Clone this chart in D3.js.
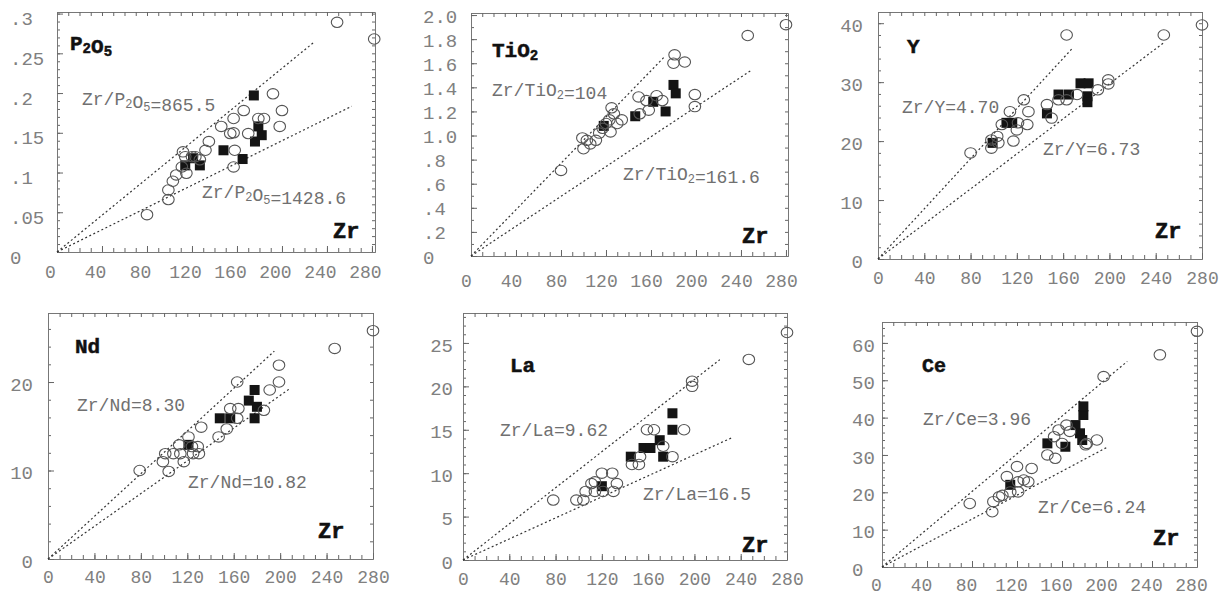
<!DOCTYPE html>
<html>
<head>
<meta charset="utf-8">
<script src="https://cdn.jsdelivr.net/npm/d3@7"></script>
<style>
  body { margin: 0; background: #fff; }
  svg { display: block; }
  text { font-family: "Liberation Mono", "DejaVu Sans Mono", monospace; }
</style>
</head>
<body>
<svg id="chart" width="1225" height="599"></svg>
<script>
// x axis is Zr (ppm) in every panel
var zrTicks = [0, 40, 80, 120, 160, 200, 240, 280];

// P2O5
var p2o5Open = [[80,0.047],[99,0.066],[99,0.078],[103,0.089],[106,0.097],[111,0.107],[112,0.126],[114,0.120],[115,0.099],[120,0.120],[123,0.120],[127,0.116],[132,0.128],[135,0.139],[146,0.158],[154,0.149],[157,0.150],[157,0.168],[158,0.128],[157,0.107],[166,0.178],[170,0.149],[179,0.168],[184,0.168],[192,0.199],[198,0.158],[200,0.178],[249,0.289],[282,0.268]];
var p2o5Filled = [[114,0.109],[121,0.118],[127,0.109],[148,0.128],[165,0.117],[175,0.197],[176,0.139],[179,0.158],[182,0.147]];
var p2o5Ratios = [865.5, 1428.6];
var p2o5Ticks = [0, 0.05, 0.1, 0.15, 0.2, 0.25, 0.3];
var p2o5TickLabels = ['0', '.05', '.1', '.15', '.2', '.25', '.3'];

// TiO2
var tio2Open = [[80,0.71],[99,0.98],[100,0.89],[103,0.96],[106,0.93],[111,0.96],[114,1.02],[117,1.06],[120,1.10],[123,1.13],[124,1.03],[125,1.23],[127,1.18],[130,1.10],[134,1.13],[149,1.32],[150,1.18],[156,1.29],[158,1.21],[165,1.33],[170,1.29],[180,1.60],[181,1.67],[190,1.61],[199,1.34],[199,1.24],[246,1.83],[280,1.92]];
var tio2Filled = [[118,1.08],[146,1.16],[162,1.28],[173,1.20],[180,1.42],[182,1.35]];
var tio2Ratios = [104, 161.6];
var tio2Ticks = [0, 0.2, 0.4, 0.6, 0.8, 1.0, 1.2, 1.4, 1.6, 1.8, 2.0];
var tio2TickLabels = ['0', '.2', '.4', '.6', '.8', '1.0', '1.2', '1.4', '1.6', '1.8', '2.0'];

// Y
var yOpen = [[80,18.0],[98,18.8],[98,20.2],[103,20.8],[104,19.7],[107,22.8],[114,25.0],[117,20.0],[120,21.9],[121,23.1],[126,27.0],[130,25.0],[129,22.8],[146,26.2],[150,23.9],[156,27.0],[163,27.0],[172,27.9],[163,38.0],[190,28.7],[199,30.4],[199,29.7],[247,38.0],[280,39.7]];
var yFilled = [[99,19.7],[111,23.1],[116,23.1],[146,24.7],[156,27.9],[165,27.9],[175,29.8],[182,29.8],[181,27.6],[181,26.6]];
var yRatios = [4.70, 6.73];
var yTicks = [0, 10, 20, 30, 40];
var yTickLabels = ['0', '10', '20', '30', '40'];

// Nd
var ndOpen = [[79,10.0],[99,11.0],[104,9.9],[101,11.9],[108,11.9],[113,12.9],[114,11.9],[117,11.0],[121,13.8],[124,12.7],[125,11.9],[129,12.7],[130,11.9],[132,14.9],[147,13.8],[154,14.7],[157,17.0],[163,15.9],[164,17.0],[163,20.0],[186,16.8],[191,19.1],[199,20.0],[199,21.9],[247,23.8],[280,25.8]];
var ndFilled = [[121,12.9],[148,15.9],[157,15.9],[178,15.9],[173,17.9],[178,19.1],[180,17.2]];
var ndRatios = [8.30, 10.82];
var ndTicks = [0, 10, 20];
var ndTickLabels = ['0', '10', '20'];

// La
var laOpen = [[78,6.9],[98,6.9],[104,6.9],[106,7.9],[111,8.8],[114,7.9],[114,9.0],[120,10.0],[121,7.9],[129,10.0],[130,7.9],[133,8.8],[146,11.0],[152,11.0],[153,11.9],[159,15.0],[165,15.0],[173,13.1],[181,11.9],[191,15.0],[198,20.6],[198,20.0],[247,23.1],[280,26.2]];
var laFilled = [[120,8.5],[145,11.9],[156,12.9],[162,12.9],[170,13.8],[173,11.9],[181,15.0],[181,16.9]];
var laRatios = [9.62, 16.5];
var laTicks = [0, 5, 10, 15, 20, 25];
var laTickLabels = ['0', '5', '10', '15', '20', '25'];

// Ce
var ceOpen = [[78,17.0],[98,14.8],[99,17.5],[104,18.8],[107,19.2],[111,24.2],[114,20.1],[120,26.9],[121,20.1],[121,22.8],[126,23.3],[130,22.8],[133,26.4],[147,30.0],[153,34.9],[154,29.1],[157,36.7],[160,33.1],[164,38.0],[167,36.3],[181,32.7],[182,33.1],[191,34.0],[197,51.0],[247,56.8],[280,63.1]];
var ceFilled = [[114,22.0],[147,33.1],[163,32.2],[172,38.0],[176,35.8],[178,34.0],[179,40.7],[179,43.0]];
var ceRatios = [3.96, 6.24];
var ceTicks = [0, 10, 20, 30, 40, 50, 60];
var ceTickLabels = ['0', '10', '20', '30', '40', '50', '60'];

var svg = d3.select('#chart');

// layout of each panel (pixels), separate from the data
var panels = [
  { name: ['P', '2', 'O', '5'], el: 'P2O5', open: p2o5Open, filled: p2o5Filled, ratios: p2o5Ratios,
    yTicks: p2o5Ticks, yLabels: p2o5TickLabels, yMax: 0.302, xMax: 282.7, yMinor: 0.01,
    left: 57, right: 375, top: 12, bottom: 252, xShift: -7, xLabelDy: 20,
    yLabelX: 10, yAnchor: 'start', yLabelDy: 5, lineEnds: [228, 262],
    title: [70, 50], zr: [333, 238], ratioPos: [[82, 105], [202, 198]] },
  { name: ['TiO', '2'], el: 'TiO2', open: tio2Open, filled: tio2Filled, ratios: tio2Ratios,
    yTicks: tio2Ticks, yLabels: tio2TickLabels, yMax: 2.017, xMax: 281.8, yMinor: 0.1,
    left: 471, right: 788, top: 13, bottom: 256, xShift: -5, xLabelDy: 25,
    yLabelX: 423, yAnchor: 'start', yLabelDy: 1, lineEnds: [172, 249],
    title: [492, 57], zr: [742, 243], ratioPos: [[492, 96], [623, 180]] },
  { name: ['Y'], el: 'Y', open: yOpen, filled: yFilled, ratios: yRatios,
    yTicks: yTicks, yLabels: yTickLabels, yMax: 41.9, xMax: 280, yMinor: 2,
    left: 878, right: 1202, top: 12, bottom: 259, xShift: 0, xLabelDy: 19,
    yLabelX: 863, yAnchor: 'end', yLabelDy: 2, lineEnds: [168, 247],
    title: [907, 53], zr: [1155, 238], ratioPos: [[902, 113], [1043, 155]] },
  { name: ['Nd'], el: 'Nd', open: ndOpen, filled: ndFilled, ratios: ndRatios,
    yTicks: ndTicks, yLabels: ndTickLabels, yMax: 27.8, xMax: 280, yMinor: 2,
    left: 48, right: 373, top: 313, bottom: 559, xShift: 0, xLabelDy: 18,
    yLabelX: 33, yAnchor: 'end', yLabelDy: 2, lineEnds: [195, 208],
    title: [75, 353], zr: [318, 538], ratioPos: [[77, 411], [188, 488]] },
  { name: ['La'], el: 'La', open: laOpen, filled: laFilled, ratios: laRatios,
    yTicks: laTicks, yLabels: laTickLabels, yMax: 28.45, xMax: 280, yMinor: 1,
    left: 463, right: 787, top: 313, bottom: 560, xShift: 0, xLabelDy: 19,
    yLabelX: 453, yAnchor: 'end', yLabelDy: 2, lineEnds: [222, 232],
    title: [510, 372], zr: [742, 552], ratioPos: [[500, 436], [643, 500]] },
  { name: ['Ce'], el: 'Ce', sans: true, open: ceOpen, filled: ceFilled, ratios: ceRatios,
    yTicks: ceTicks, yLabels: ceTickLabels, yMax: 65.6, xMax: 280, yMinor: 2,
    left: 882, right: 1197, top: 322, bottom: 567, xShift: -6, xLabelDy: 18,
    yLabelX: 852, yAnchor: 'start', yLabelDy: 2, lineEnds: [218, 200],
    title: [922, 372], zr: [1153, 545], ratioPos: [[923, 425], [1038, 513]] }
];

// writes a string like TiO2 with the digits as subscripts
function addFormula(text, parts, subSize) {
  parts.forEach(function (part) {
    if (/^[0-9]$/.test(part)) {
      text.append('tspan').attr('font-size', subSize).attr('dy', 3).text(part);
      text.append('tspan').attr('dy', -3).text('');
    } else {
      text.append('tspan').text(part);
    }
  });
}

function drawPanel(p) {
  var x = d3.scaleLinear().domain([0, p.xMax]).range([p.left, p.right]);
  var y = d3.scaleLinear().domain([0, p.yMax]).range([p.bottom, p.top]);
  var g = svg.append('g');

  var xMinor = d3.range(0, p.xMax + 0.001, 10);
  var yMinor = d3.range(0, p.yMax + 1e-9, p.yMinor);

  function styleAxis(a) {
    a.selectAll('.domain').attr('stroke', '#777').attr('stroke-width', 1);
    a.selectAll('.tick line').attr('stroke', '#666').attr('stroke-width', 1);
  }

  // frame with inward minor ticks on all four sides
  g.append('g').attr('transform', 'translate(0,' + p.bottom + ')')
    .call(d3.axisBottom(x).tickValues(xMinor).tickSize(-4).tickSizeOuter(0).tickFormat(''))
    .call(styleAxis);
  g.append('g').attr('transform', 'translate(0,' + p.top + ')')
    .call(d3.axisTop(x).tickValues(xMinor).tickSize(-4).tickSizeOuter(0).tickFormat(''))
    .call(styleAxis);
  g.append('g').attr('transform', 'translate(' + p.left + ',0)')
    .call(d3.axisLeft(y).tickValues(yMinor).tickSize(-3).tickSizeOuter(0).tickFormat(''))
    .call(styleAxis);
  g.append('g').attr('transform', 'translate(' + p.right + ',0)')
    .call(d3.axisRight(y).tickValues(yMinor).tickSize(-3).tickSizeOuter(0).tickFormat(''))
    .call(styleAxis);
  // slightly longer ticks at the labelled values
  g.append('g').attr('transform', 'translate(0,' + p.bottom + ')')
    .call(d3.axisBottom(x).tickValues(zrTicks.filter(function (d) { return d <= p.xMax; })).tickSize(-6).tickSizeOuter(0).tickFormat(''))
    .call(styleAxis);
  g.append('g').attr('transform', 'translate(' + p.left + ',0)')
    .call(d3.axisLeft(y).tickValues(p.yTicks).tickSize(-6).tickSizeOuter(0).tickFormat(''))
    .call(styleAxis);

  // tick labels
  var xl = g.append('g').attr('transform', 'translate(' + p.xShift + ',' + (p.bottom + p.xLabelDy) + ')')
    .call(d3.axisBottom(x).tickValues(zrTicks).tickSize(0).tickPadding(0));
  xl.select('.domain').remove();
  xl.selectAll('text').attr('font-family', '"Liberation Mono", monospace').attr('font-size', 18)
    .attr('fill', '#808080').attr('y', 0).attr('dy', '0.35em');

  var yl = g.append('g').attr('transform', 'translate(' + p.yLabelX + ',' + p.yLabelDy + ')')
    .call(d3.axisLeft(y).tickValues(p.yTicks).tickFormat(function (d, i) { return p.yLabels[i]; }).tickSize(0).tickPadding(0));
  yl.select('.domain').remove();
  yl.selectAll('text').attr('font-family', '"Liberation Mono", monospace').attr('font-size', 19)
    .attr('fill', '#808080').attr('x', 0).attr('text-anchor', p.yAnchor);

  // ratio reference lines through the origin
  p.ratios.forEach(function (r, i) {
    var zEnd = p.lineEnds[i];
    g.append('line')
      .attr('x1', x(0)).attr('y1', y(0))
      .attr('x2', x(zEnd)).attr('y2', y(zEnd / r))
      .attr('stroke', '#333').attr('stroke-width', 1.2).attr('stroke-dasharray', '2,2.5');

    var t = g.append('text').attr('x', p.ratioPos[i][0]).attr('y', p.ratioPos[i][1])
      .attr('font-size', 18).attr('fill', '#707070');
    t.append('tspan').text('Zr/');
    addFormula(t, p.name, 12);
    t.append('tspan').text('=' + (p.el === 'Y' || p.el === 'Nd' || p.el === 'Ce' ? r.toFixed(2) : String(r)));
  });

  // filled squares, then open circles
  g.selectAll('.sq').data(p.filled).join('rect').attr('class', 'sq')
    .attr('x', function (d) { return x(d[0]) - 5; })
    .attr('y', function (d) { return y(d[1]) - 5; })
    .attr('width', 10).attr('height', 10)
    .attr('fill', '#141414');
  g.selectAll('.ci').data(p.open).join('ellipse').attr('class', 'ci')
    .attr('cx', function (d) { return x(d[0]); })
    .attr('cy', function (d) { return y(d[1]); })
    .attr('rx', 5.8).attr('ry', 5.2)
    .attr('fill', 'none').attr('stroke', '#555').attr('stroke-width', 1.1);

  // element name and Zr label
  var title = g.append('text').attr('x', p.title[0]).attr('y', p.title[1])
    .attr('font-size', p.sans ? 20 : 21).attr('font-weight', 'bold').attr('fill', '#111')
    .attr('stroke', '#111').attr('stroke-width', 0.5);
  if (p.sans) title.attr('font-family', '"Liberation Sans", Arial, sans-serif');
  addFormula(title, p.name, 14);

  g.append('text').attr('x', p.zr[0]).attr('y', p.zr[1])
    .attr('font-size', 22).attr('font-weight', 'bold').attr('fill', '#111')
    .attr('stroke', '#111').attr('stroke-width', 0.6)
    .text('Zr');
}

panels.forEach(drawPanel);
</script>
</body>
</html>
